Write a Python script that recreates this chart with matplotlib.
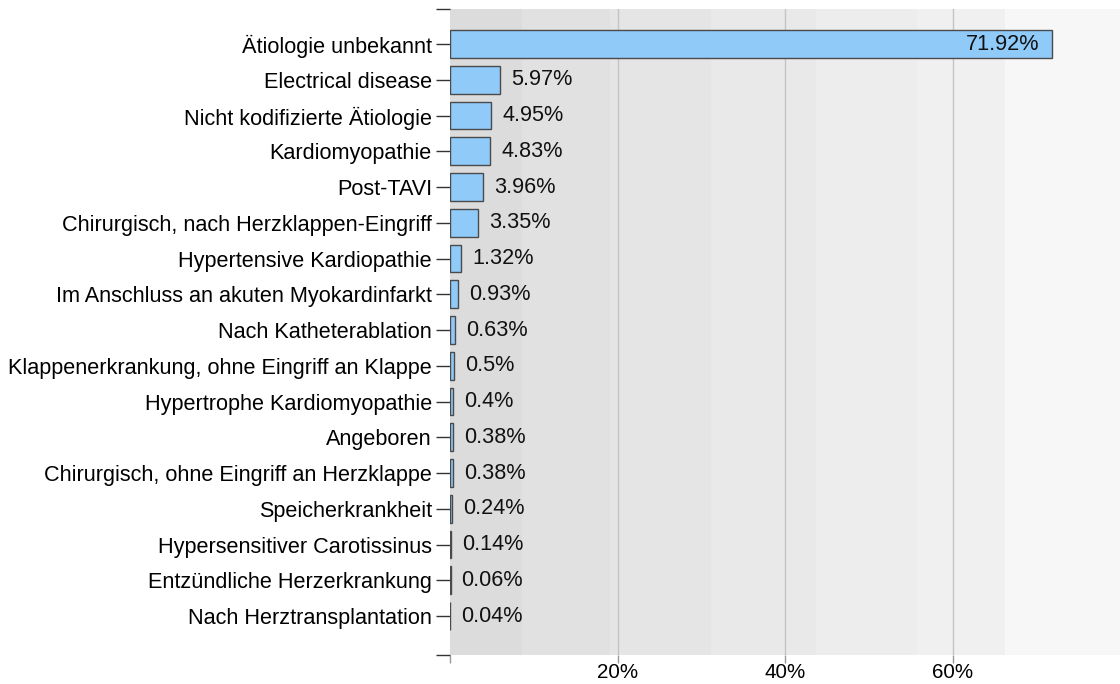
import matplotlib
matplotlib.use("Agg")
import matplotlib.pyplot as plt

plt.rcParams["font.family"] = ["Liberation Sans", "DejaVu Sans"]

categories = [
    "Ätiologie unbekannt",
    "Electrical disease",
    "Nicht kodifizierte Ätiologie",
    "Kardiomyopathie",
    "Post-TAVI",
    "Chirurgisch, nach Herzklappen-Eingriff",
    "Hypertensive Kardiopathie",
    "Im Anschluss an akuten Myokardinfarkt",
    "Nach Katheterablation",
    "Klappenerkrankung, ohne Eingriff an Klappe",
    "Hypertrophe Kardiomyopathie",
    "Angeboren",
    "Chirurgisch, ohne Eingriff an Herzklappe",
    "Speicherkrankheit",
    "Hypersensitiver Carotissinus",
    "Entzündliche Herzerkrankung",
    "Nach Herztransplantation",
]
values = [71.92, 5.97, 4.95, 4.83, 3.96, 3.35, 1.32, 0.93, 0.63, 0.5, 0.4,
          0.38, 0.38, 0.24, 0.14, 0.06, 0.04]
value_labels = ["71.92%", "5.97%", "4.95%", "4.83%", "3.96%", "3.35%", "1.32%",
                "0.93%", "0.63%", "0.5%", "0.4%", "0.38%", "0.38%", "0.24%",
                "0.14%", "0.06%", "0.04%"]

x_ticks = [0, 20, 40, 60]
x_tick_labels = ["", "20%", "40%", "60%"]

# background bands (left edge, right edge, colour)
band_edges = [0, 8.6, 19.05, 31.2, 43.7, 55.8, 66.3, 80]
band_colors = ["#dcdcdc", "#e1e1e1", "#e5e5e5", "#e9e9e9", "#ededed",
               "#f0f0f0", "#f7f7f7"]

fig = plt.figure(figsize=(11.2, 6.84), dpi=100)
ax = fig.add_axes([450 / 1120, 1 - 655 / 684, 670 / 1120, 646 / 684])

for lo, hi, c in zip(band_edges[:-1], band_edges[1:], band_colors):
    ax.axvspan(lo, hi, color=c, lw=0, zorder=0)
for t in x_ticks[1:]:
    ax.axvline(t, color="#c4c4c4", lw=1, zorder=1)

ypos = list(range(len(categories)))
ax.barh(ypos, values, height=0.78, color="#90caf9", edgecolor="#4a4a4a",
        linewidth=1, zorder=2)

fs = 15.6
for i, (v, lab) in enumerate(zip(values, value_labels)):
    if v > 30:
        ax.annotate(lab, (v, i), xytext=(-9, 0), textcoords="offset points",
                    ha="right", va="center", fontsize=fs, color="#111111",
                    zorder=3)
    else:
        ax.annotate(lab, (v, i), xytext=(8, 0), textcoords="offset points",
                    ha="left", va="center", fontsize=fs, color="#111111",
                    zorder=3)

ylim = (16 + 1.09, -0.98)
ax.set_ylim(*ylim)
ax.set_xlim(0, 80)
ax.set_yticks(ypos)
ax.set_yticklabels(categories, fontsize=fs, color="#000000")
ax.set_yticks(list(ylim), minor=True)
ax.tick_params(axis="y", which="both", length=10, width=1, color="#333333",
               pad=3)
ax.set_xticks(x_ticks)
ax.set_xticklabels(x_tick_labels, fontsize=14.8, color="#000000")
ax.tick_params(axis="x", length=6, width=1, color="#999999", pad=0)
ax.get_xticklines()[0].set_color("#333333")

for s in ax.spines.values():
    s.set_visible(False)

fig.savefig("out.png", dpi=100)
